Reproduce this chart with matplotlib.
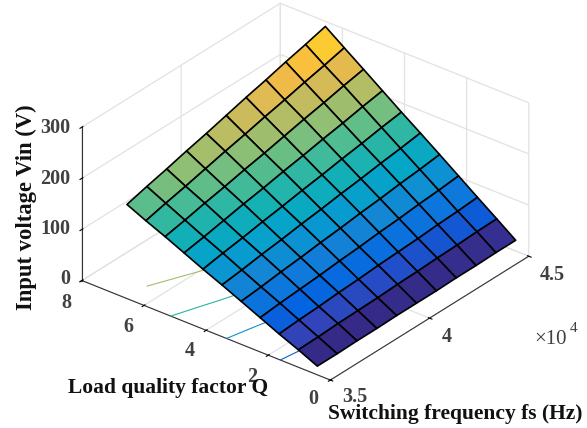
import numpy as np
import matplotlib
matplotlib.use("Agg")
import matplotlib.pyplot as plt
from matplotlib.colors import LinearSegmentedColormap, Normalize

fs = [35000, 36000, 37000, 38000, 39000, 40000, 41000, 42000, 43000, 44000, 45000]
q = [0.42, 1.03, 1.65, 2.26, 2.87, 3.49, 4.10, 4.71, 5.32, 5.94, 6.55]

# input voltage, one row per q value
vin = [
    [17, 17, 18, 18, 19, 19, 19, 20, 20, 21, 21],
    [34, 35, 37, 38, 39, 41, 42, 44, 45, 47, 48],
    [50, 53, 55, 58, 60, 63, 65, 67, 70, 72, 75],
    [67, 71, 74, 77, 81, 84, 88, 91, 95, 98, 102],
    [84, 88, 93, 97, 102, 106, 111, 115, 120, 124, 129],
    [101, 106, 112, 117, 123, 128, 134, 139, 145, 150, 156],
    [117, 124, 130, 137, 143, 150, 156, 163, 169, 176, 182],
    [134, 141, 149, 157, 164, 172, 179, 187, 194, 202, 209],
    [151, 159, 168, 176, 185, 193, 202, 211, 219, 228, 236],
    [167, 177, 186, 196, 206, 215, 225, 234, 244, 253, 263],
    [184, 195, 205, 216, 226, 237, 248, 258, 269, 279, 290],
]
contour_levels = [49, 97, 146, 195, 244]

fs_ticks = [35000, 40000, 45000]
fs_labels = ["3.5", "4", "4.5"]
q_ticks = [0, 2, 4, 6, 8]
q_labels = ["0", "2", "4", "6", "8"]
vin_ticks = [0, 100, 200, 300]
vin_labels = ["0", "100", "200", "300"]

# old MATLAB parula, every fourth entry
parula = [
    (0.2081, 0.1663, 0.5292), (0.1959, 0.2645, 0.7279), (0.0117, 0.3875, 0.8820),
    (0.0498, 0.4586, 0.8641), (0.0793, 0.5200, 0.8312), (0.0343, 0.5966, 0.8199),
    (0.0228, 0.6535, 0.7768), (0.0843, 0.6928, 0.7062), (0.2178, 0.7250, 0.6193),
    (0.3953, 0.7459, 0.5244), (0.5709, 0.7485, 0.4494), (0.7184, 0.7411, 0.3905),
    (0.8507, 0.7299, 0.3360), (0.9739, 0.7314, 0.2666), (0.9880, 0.8066, 0.1794),
    (0.9589, 0.8949, 0.1132), (0.9763, 0.9831, 0.0538),
]
cmap = LinearSegmentedColormap.from_list("parula", parula)

W, H = 587, 428
plt.rcParams["font.family"] = ["Liberation Serif", "DejaVu Serif"]
fig = plt.figure(figsize=(W / 100, H / 100), dpi=100)

side = 469
cx, cy = 299, 198
ax = fig.add_axes([(cx - side / 2) / W, 1 - (cy + side / 2) / H, side / W, side / H],
                  projection="3d", computed_zorder=False)
ax.patch.set_alpha(0)
ax.set_proj_type("ortho")
ax.view_init(elev=30, azim=-141.3)
ax.set_box_aspect((317, 318, 177))
ax.set_xlim(35000, 45000, view_margin=0)
ax.set_ylim(0, 8, view_margin=0)
ax.set_zlim(0, 300, view_margin=0)

X, Y = np.meshgrid(fs, q)
Z = np.array(vin, dtype=float)
norm = Normalize(Z.min(), Z.max())

ax.contour(X, Y, Z, levels=contour_levels, zdir="z", offset=0, cmap=cmap, norm=norm,
           linewidths=0.8, zorder=2)
ax.plot_surface(X, Y, Z, facecolors=cmap(norm(Z)), shade=False, rstride=1, cstride=1,
                edgecolor="black", linewidth=1.2, antialiased=True, zorder=3)

ax.set_xticks(fs_ticks)
ax.set_yticks(q_ticks)
ax.set_zticks(vin_ticks)
ax.set_xticklabels([])
ax.set_yticklabels([])
ax.set_zticklabels([])
for axis in (ax.xaxis, ax.yaxis, ax.zaxis):
    axis.set_pane_color((1, 1, 1, 0))
    axis.pane.set_edgecolor("none")
    axis.line.set_color("#333333")
    axis.line.set_linewidth(0.8)
    axis._axinfo["grid"].update(color="#e2e2e2", linewidth=0.9)
    axis._axinfo["tick"].update(inward_factor=0.12, outward_factor=0.06, color="#333333",
                                linewidth={True: 0.8, False: 0.5})


def put(x, y, s, **kw):
    kw.setdefault("ha", "center")
    kw.setdefault("va", "center")
    fig.text(x / W, 1 - (y + 1.5) / H, s, **kw)


tick_style = dict(fontsize=14.5, fontweight="bold", color="#404040")
for label, (x, y) in zip(vin_labels, [(65, 277), (55, 227), (55, 177), (55, 126)]):
    put(x, y, label, **tick_style)
for label, (x, y) in zip(q_labels, [(313, 398), (252, 375), (190, 350), (128, 326), (66, 301)]):
    put(x, y, label, **tick_style)
for label, (x, y) in zip(fs_labels, [(355, 396), (447, 335), (552, 274)]):
    put(x, y, label, **tick_style)
put(551, 338, "\u00d710", fontsize=15, color="#404040")
put(574, 327, "4", fontsize=11, color="#404040")

label_style = dict(fontsize=15.5, fontweight="bold", color="#111111")
put(168, 386, "Load quality factor Q", **label_style)
put(455, 413, "Switching frequency fs (Hz)", **label_style)
fig.text(26 / W, 1 - 207 / H, "Input voltage Vin (V)", rotation=90, ha="center", va="center",
         fontsize=16.3, fontweight="bold", color="#111111")

fig.savefig("out.png", dpi=100)
